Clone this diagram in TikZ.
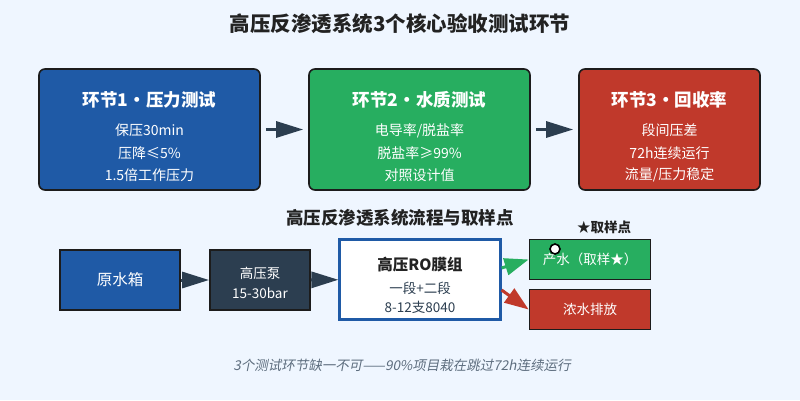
\documentclass[tikz,border=0pt]{standalone}
\usepackage{fontspec}
\usepackage{graphicx}
\setmainfont{Noto Sans CJK SC}
\newfontfamily\footfont{Noto Sans CJK SC}[FakeSlant=0.2]
\usetikzlibrary{arrows.meta,calc}
\definecolor{bg}{HTML}{EFF6FF}
\definecolor{cblue}{HTML}{1F5AA6}
\definecolor{cgreen}{HTML}{27AE60}
\definecolor{cred}{HTML}{C0392B}
\definecolor{cdark}{HTML}{2C3E50}
\definecolor{cborder}{HTML}{1C1C1C}
\definecolor{ctitle}{HTML}{222222}
\definecolor{cfoot}{HTML}{5D6D7E}
\newcommand{\fs}[1]{\fontsize{#1}{#1}\selectfont}
\tikzset{
  stagebox/.style={draw=cborder, line width=1.6pt, rounded corners=6pt, inner sep=0pt},
  flowbox/.style={draw=cborder, line width=1.8pt, inner sep=0pt},
  ttl/.style={text=white, font=\fs{17.5}\bfseries, inner sep=0pt},
  body/.style={text=white, font=\fs{14}, inner sep=0pt},
  arr/.style={draw=cdark, line width=3pt, -{Triangle[length=27pt,width=16pt]}},
  garr/.style={draw=cgreen, line width=3pt, -{Triangle[length=24pt,width=17pt]}},
  rarr/.style={draw=cred, line width=3pt, -{Triangle[length=24pt,width=17pt]}},
}
\begin{document}
\begin{tikzpicture}[x=1pt,y=-1pt]
\fill[bg] (0,0) rectangle (800,400);
\useasboundingbox (0,0) rectangle (800,400);

\node[text=ctitle, inner sep=0pt] (title) at (400,24) {\fs{20.5}\bfseries 高压反渗透系统3个核心验收测试环节};

% stage boxes
\node[stagebox, fill=cblue, minimum width=221pt, minimum height=121pt] (s1) at (149.5,129.5) {};
\node[stagebox, fill=cgreen, minimum width=221pt, minimum height=121pt] (s2) at (419.5,129.5) {};
\node[stagebox, fill=cred, minimum width=181pt, minimum height=121pt] (s3) at (669.5,129.5) {};

\node[ttl] (t1) at (149.5,99.5) {环节1・压力测试};
\node[body] (b11) at (149.5,130.5) {保压30min};
\node[body] (b12) at (149.5,153) {压降≤5\%};
\node[body] (b13) at (149.5,175) {1.5倍工作压力};

\node[ttl] (t2) at (419.5,99.5) {环节2・水质测试};
\node[body] (b21) at (419.5,130.5) {电导率/脱盐率};
\node[body] (b22) at (419.5,153) {脱盐率≥99\%};
\node[body] (b23) at (419.5,175) {对照设计值};

\node[ttl] (t3) at (669.5,99.5) {环节3・回收率};
\node[body] (b31) at (669.5,130.5) {段间压差};
\node[body] (b32) at (669.5,153) {72h连续运行};
\node[body] (b33) at (669.5,175) {流量/压力稳定};

\draw[arr, shorten <=5pt, shorten >=5pt] (s1) -- (s2);
\draw[arr, shorten <=5pt, shorten >=5pt] (s2) -- (s3);

% flow section
\node[text=ctitle, inner sep=0pt] (sub) at (400,218) {\fs{17.5}\bfseries 高压反渗透系统流程与取样点};
\node[text=ctitle, inner sep=0pt] (samp) at (604,227) {\fs{13.5}\bfseries ★取样点};

\node[flowbox, fill=cblue, minimum width=120pt, minimum height=60pt, text=white, font=\fs{15.5}] (tank) at (120,280) {原水箱};
\node[flowbox, fill=cdark, minimum width=100pt, minimum height=60pt] (pump) at (260,280) {};
\node[text=white, font=\fs{13.5}, inner sep=0pt] (pump1) at (260,273) {高压泵};
\node[text=white, font=\fs{13.5}, inner sep=0pt] (pump2) at (260,293) {15-30bar};

\node[draw=cblue, line width=2.2pt, fill=white, minimum width=161pt, minimum height=80pt, inner sep=0pt] (ro) at (420,279.5) {};
\node[text=ctitle, font=\fs{15.5}\bfseries, inner sep=0pt] (ro1) at (420,265) {高压RO膜组};
\node[text=cdark, font=\fs{13.5}, inner sep=0pt] (ro2) at (420,288) {一段+二段};
\node[text=cdark, font=\fs{13.5}, inner sep=0pt] (ro3) at (420,307) {8-12支8040};

\node[flowbox, fill=cgreen, minimum width=121pt, minimum height=40pt, text=white, font=\fs{13.5}] (prod) at (590,259.5) {产水（取样★）};
\node[flowbox, fill=cred, minimum width=121pt, minimum height=40pt, text=white, font=\fs{13.5}] (waste) at (590,309.5) {浓水排放};
\node[circle, draw=black, fill=white, line width=1.6pt, minimum size=10pt, inner sep=0pt] (mark) at (555,249) {};

\draw[arr] (tank) -- (pump);
\draw[arr] (pump) -- (ro);
\draw[garr] ($(ro.east)+(0,-11.5)$) -- (prod.west);
\draw[rarr] ($(ro.east)+(0,10.5)$) -- (waste.west);

\node[text=cfoot, font=\fs{13.5}\footfont, inner sep=0pt] (foot) at (402,365) {3个测试环节缺一不可——90\%项目栽在跳过72h连续运行};
\end{tikzpicture}
\end{document}
